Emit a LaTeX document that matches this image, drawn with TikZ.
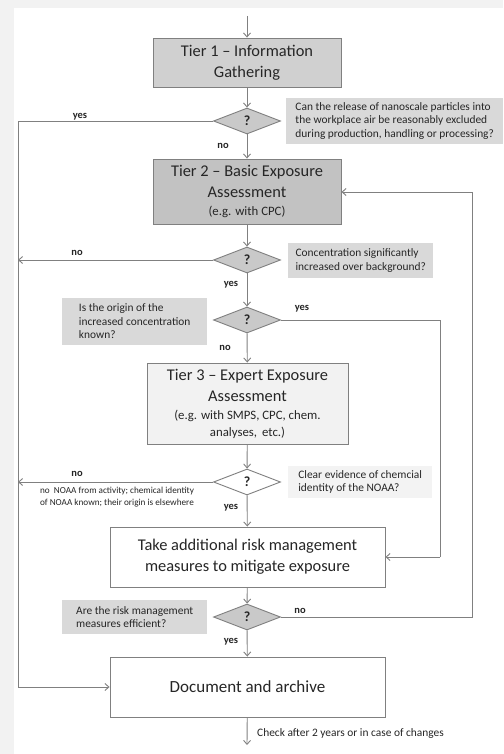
\documentclass[tikz,border=0pt]{standalone}
\usepackage{fontspec}
\setmainfont{Carlito}
\usetikzlibrary{shapes.geometric,arrows.meta}
\definecolor{ink}{HTML}{262626}
\definecolor{edge}{HTML}{808080}
\definecolor{tierA}{HTML}{D0D0D0}
\definecolor{tierB}{HTML}{C2C2C2}
\definecolor{tierC}{HTML}{F2F2F2}
\definecolor{qfill}{HTML}{D9D9D9}
\definecolor{qlight}{HTML}{F3F3F3}
\definecolor{dfill}{HTML}{C9C9C9}
\newcommand{\bigsize}{\fontsize{16.4}{21}\selectfont}
\newcommand{\subsize}{\fontsize{12.8}{17}\selectfont}
\tikzset{
  flow/.style={draw=edge, line width=0.9pt, -{Straight Barb[length=4pt,width=7pt]}},
  plain/.style={draw=edge, line width=0.9pt},
  box/.style={draw=edge, line width=0.9pt, rectangle, align=center, text=ink, inner sep=2pt},
  decide/.style={draw=edge, line width=0.9pt, diamond, fill=dfill, aspect=2.6,
    minimum width=67pt, minimum height=26pt, inner sep=0pt, text=ink,
    font=\fontsize{14}{14}\selectfont\bfseries},
  question/.style={rectangle, align=left, text=ink, inner sep=0pt, inner xsep=6pt,
    font=\fontsize{11.4}{13.5}\selectfont, anchor=west},
  answer/.style={text=ink, font=\fontsize{10.5}{11}\selectfont\bfseries, inner sep=0pt}
}
\begin{document}
\begin{tikzpicture}[x=1pt,y=-1pt]
% page background and white panel
\fill[tierC] (0,0) rectangle (503,754);
\fill[white] (14,8) rectangle (503,754);
\useasboundingbox (0,0) rectangle (503,754);

% process boxes
\node[box, fill=tierA, minimum width=188pt, minimum height=49pt, font=\bigsize] (t1) at (247,62.5)
  {Tier 1 -- Information\\Gathering};
\node[box, fill=tierB, minimum width=188pt, minimum height=65pt, font=\bigsize] (t2) at (247,191.5)
  {Tier 2 -- Basic Exposure\\Assessment\\[-3pt]\subsize (e.g. with CPC)};
\node[box, fill=tierC, minimum width=201pt, minimum height=81pt, font=\bigsize] (t3) at (247.5,403.5)
  {Tier 3 -- Expert Exposure\\Assessment\\[-3pt]\subsize (e.g. with SMPS, CPC, chem.\\[-4pt]\subsize analyses,\, etc.)};
\node[box, fill=white, minimum width=275pt, minimum height=60pt, font=\fontsize{16.4}{21}\selectfont] (take) at (247.5,557)
  {Take additional risk management\\measures to mitigate exposure};
\node[box, fill=white, minimum width=275pt, minimum height=60pt, font=\fontsize{17}{21}\selectfont] (doc) at (247.5,687)
  {Document and archive};

% decisions
\node[decide] (d1) at (247,121) {?};
\node[decide] (d2) at (247,260) {?};
\node[decide] (d3) at (247,320) {?};
\node[decide, fill=white] (d4) at (247,482) {?};
\node[decide] (d5) at (247,617) {?};

% questions
\node[question, fill=qfill, minimum width=217pt, minimum height=46pt] (q1) at (286,121)
  {Can the release of nanoscale particles into\\the workplace air be reasonably excluded\\during production, handling or processing?};
\node[question, fill=qfill, minimum width=145pt, minimum height=35pt] (q2) at (288,260.5)
  {Concentration significantly\\increased over background?};
\node[question, fill=qfill, minimum width=145pt, minimum height=47pt] (q3) at (62,321.5)
  {Is the origin of the\\increased concentration\\known?};
\node[question, fill=qlight, minimum width=144pt, minimum height=32pt] (q4) at (288,482)
  {Clear evidence of chemcial\\identity of the NOAA?};
\node[question, fill=qfill, minimum width=145pt, minimum height=34pt] (q5) at (62,617)
  {Are the risk management\\measures efficient?};
\node[text=ink, align=left, inner sep=0pt, font=\fontsize{9.2}{12}\selectfont] (note) at (117,497)
  {no\ \ NOAA from activity; chemical identity\\of NOAA known; their origin is elsewhere};
\node[text=ink, anchor=west, inner sep=0pt, font=\fontsize{11.4}{12}\selectfont] (check) at (257,734)
  {Check after 2 years or in case of changes};

% free ends of connectors
\coordinate (start) at (247,16);
\coordinate (finish) at (247,745);
\coordinate (lefttop) at (18,121);
\coordinate (leftbot) at (18,687);
\coordinate (lmid2) at (18,260);
\coordinate (lmid4) at (18,482);
\coordinate (rA) at (440,320);
\coordinate (rAb) at (440,557);
\coordinate (rB) at (472,617);
\coordinate (rBt) at (472,192);

% main line
\draw[flow] (start) -- (t1);
\draw[flow] (t1) -- (d1);
\draw[flow] (d1) -- (t2);
\draw[flow] (t2) -- (d2);
\draw[flow] (d2) -- (d3);
\draw[flow] (d3) -- (t3);
\draw[flow] (t3) -- (d4);
\draw[flow] (d4) -- (take);
\draw[flow] (take) -- (d5);
\draw[flow] (d5) -- (doc);
\draw[flow] (doc) -- (finish);

% side branches
\draw[plain] (d1.west) -- (lefttop) -- (leftbot);
\draw[flow] (leftbot) -- (doc.west);
\draw[flow] (d2.west) -- (lmid2);
\draw[flow] (d4.west) -- (lmid4);
\draw[plain] (d3.east) -- (rA) -- (rAb);
\draw[flow] (rAb) -- (take.east |- rAb);
\draw[plain] (d5.east) -- (rB) -- (rBt);
\draw[flow] (rBt) -- (t2.east |- rBt);

% answers
\node[answer] (a1) at (80,117) {yes};
\node[answer] (a2) at (223,146) {no};
\node[answer] (a3) at (77,253) {no};
\node[answer] (a4) at (231,285) {yes};
\node[answer] (a5) at (302,309) {yes};
\node[answer] (a6) at (225,348) {no};
\node[answer] (a7) at (77,474) {no};
\node[answer] (a8) at (231,508) {yes};
\node[answer] (a9) at (300,611) {no};
\node[answer] (a10) at (231,642) {yes};
\end{tikzpicture}
\end{document}
